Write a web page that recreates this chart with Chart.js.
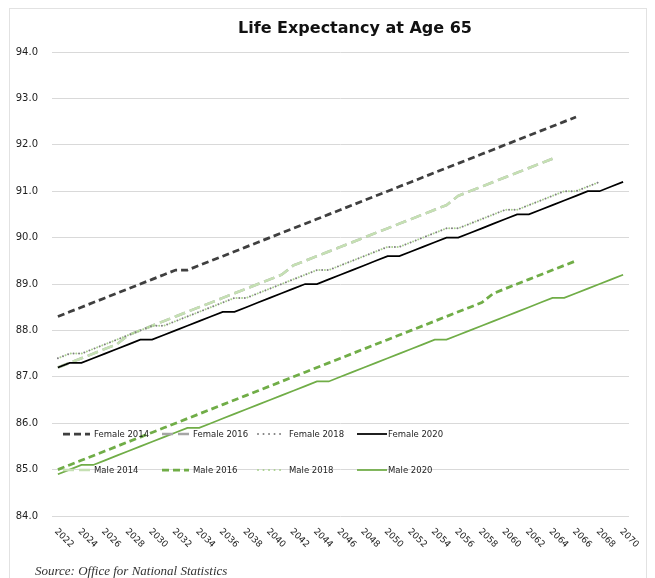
<!DOCTYPE html>
<html>
<head>
<meta charset="utf-8">
<script src="https://cdn.jsdelivr.net/npm/chart.js@4/dist/chart.umd.min.js"></script>
<style>
  html, body { margin: 0; padding: 0; background: #fff; overflow: hidden; }
  #wrap { position: relative; width: 655px; height: 578px; }
  #frame { position: absolute; left: 9px; top: 8px; width: 638px; height: 600px; border: 1px solid #e2e2e2; box-sizing: border-box; }
  #chart { position: absolute; left: 0; top: 0; }
  #title { position: absolute; left: 0; top: 18px; width: 710px; text-align: center; font: bold 16px "DejaVu Sans", sans-serif; color: #111; line-height: 20px; }
  #source { position: absolute; left: 35px; top: 563px; font: italic 13px "Liberation Serif", serif; color: #333; line-height: 16px; }
</style>
</head>
<body>
<div id="wrap">
  <div id="frame"></div>
  <canvas id="chart" width="655" height="578"></canvas>
  <div id="title">Life Expectancy at Age 65</div>
  <div id="source">Source: Office for National Statistics</div>
</div>
<script>
const years = ['2022','2023','2024','2025','2026','2027','2028','2029','2030','2031',
  '2032','2033','2034','2035','2036','2037','2038','2039','2040','2041',
  '2042','2043','2044','2045','2046','2047','2048','2049','2050','2051',
  '2052','2053','2054','2055','2056','2057','2058','2059','2060','2061',
  '2062','2063','2064','2065','2066','2067','2068','2069','2070'];

const yTicks = [84, 85, 86, 87, 88, 89, 90, 91, 92, 93, 94];

// 2022 - 2066
const female2014 = [88.3, 88.4, 88.5, 88.6, 88.7, 88.8, 88.9, 89.0, 89.1, 89.2,
  89.3, 89.3, 89.4, 89.5, 89.6, 89.7, 89.8, 89.9, 90.0, 90.1,
  90.2, 90.3, 90.4, 90.5, 90.6, 90.7, 90.8, 90.9, 91.0, 91.1,
  91.2, 91.3, 91.4, 91.5, 91.6, 91.7, 91.8, 91.9, 92.0, 92.1,
  92.2, 92.3, 92.4, 92.5, 92.6];

// 2022 - 2064 (Female 2016 sits right under this line in the source chart)
const male2014 = [87.2, 87.3, 87.4, 87.5, 87.6, 87.7, 87.9, 88.0, 88.1, 88.2,
  88.3, 88.4, 88.5, 88.6, 88.7, 88.8, 88.9, 89.0, 89.1, 89.2,
  89.4, 89.5, 89.6, 89.7, 89.8, 89.9, 90.0, 90.1, 90.2, 90.3,
  90.4, 90.5, 90.6, 90.7, 90.9, 91.0, 91.1, 91.2, 91.3, 91.4,
  91.5, 91.6, 91.7];
const female2016 = [87.2, 87.3, 87.4, 87.5, 87.6, 87.7, 87.9, 88.0, 88.1, 88.2,
  88.3, 88.4, 88.5, 88.6, 88.7, 88.8, 88.9, 89.0, 89.1, 89.2,
  89.4, 89.5, 89.6, 89.7, 89.8, 89.9, 90.0, 90.1, 90.2, 90.3,
  90.4, 90.5, 90.6, 90.7, 90.9, 91.0, 91.1, 91.2, 91.3, 91.4,
  91.5, 91.6, 91.7];

// 2022 - 2068 (both 2018 series share the dotted line)
const female2018 = [87.4, 87.5, 87.5, 87.6, 87.7, 87.8, 87.9, 88.0, 88.1, 88.1,
  88.2, 88.3, 88.4, 88.5, 88.6, 88.7, 88.7, 88.8, 88.9, 89.0,
  89.1, 89.2, 89.3, 89.3, 89.4, 89.5, 89.6, 89.7, 89.8, 89.8,
  89.9, 90.0, 90.1, 90.2, 90.2, 90.3, 90.4, 90.5, 90.6, 90.6,
  90.7, 90.8, 90.9, 91.0, 91.0, 91.1, 91.2];
const male2018 = [87.4, 87.5, 87.5, 87.6, 87.7, 87.8, 87.9, 88.0, 88.1, 88.1,
  88.2, 88.3, 88.4, 88.5, 88.6, 88.7, 88.7, 88.8, 88.9, 89.0,
  89.1, 89.2, 89.3, 89.3, 89.4, 89.5, 89.6, 89.7, 89.8, 89.8,
  89.9, 90.0, 90.1, 90.2, 90.2, 90.3, 90.4, 90.5, 90.6, 90.6,
  90.7, 90.8, 90.9, 91.0, 91.0, 91.1, 91.2];

// 2022 - 2070
const female2020 = [87.2, 87.3, 87.3, 87.4, 87.5, 87.6, 87.7, 87.8, 87.8, 87.9,
  88.0, 88.1, 88.2, 88.3, 88.4, 88.4, 88.5, 88.6, 88.7, 88.8,
  88.9, 89.0, 89.0, 89.1, 89.2, 89.3, 89.4, 89.5, 89.6, 89.6,
  89.7, 89.8, 89.9, 90.0, 90.0, 90.1, 90.2, 90.3, 90.4, 90.5,
  90.5, 90.6, 90.7, 90.8, 90.9, 91.0, 91.0, 91.1, 91.2];

// 2022 - 2066
const male2016 = [85.0, 85.1, 85.2, 85.3, 85.4, 85.5, 85.6, 85.7, 85.8, 85.9,
  86.0, 86.1, 86.2, 86.3, 86.4, 86.5, 86.6, 86.7, 86.8, 86.9,
  87.0, 87.1, 87.2, 87.3, 87.4, 87.5, 87.6, 87.7, 87.8, 87.9,
  88.0, 88.1, 88.2, 88.3, 88.4, 88.5, 88.6, 88.8, 88.9, 89.0,
  89.1, 89.2, 89.3, 89.4, 89.5];

// 2022 - 2070
const male2020 = [84.9, 85.0, 85.1, 85.1, 85.2, 85.3, 85.4, 85.5, 85.6, 85.7,
  85.8, 85.9, 85.9, 86.0, 86.1, 86.2, 86.3, 86.4, 86.5, 86.6,
  86.7, 86.8, 86.9, 86.9, 87.0, 87.1, 87.2, 87.3, 87.4, 87.5,
  87.6, 87.7, 87.8, 87.8, 87.9, 88.0, 88.1, 88.2, 88.3, 88.4,
  88.5, 88.6, 88.7, 88.7, 88.8, 88.9, 89.0, 89.1, 89.2];

const FONT = '"DejaVu Sans", sans-serif';
const TEXT = '#1e1e1e';

function series(label, data, color, width, dash, extra) {
  return Object.assign({
    label: label,
    data: data,
    borderColor: color,
    backgroundColor: color,
    borderWidth: width,
    borderDash: dash,
    pointRadius: 0,
    pointHoverRadius: 0,
    tension: 0,
    fill: false
  }, extra || {});
}

// legend order (rows of four), drawn inside the plot like the original
const legendRows = [
  ['Female 2014', 'Female 2016', 'Female 2018', 'Female 2020'],
  ['Male 2014', 'Male 2016', 'Male 2018', 'Male 2020']
];

const datasets = [
  series('Female 2014', female2014, '#3f3f3f', 2.75, [7, 4], { order: 1 }),
  series('Female 2016', female2016, '#a6a6a6', 2.5, [11, 5], { order: 8 }),
  series('Female 2018', female2018, '#7f7f7f', 2, [0.01, 5.5], { order: 3, borderCapStyle: 'round' }),
  series('Female 2020', female2020, '#000000', 1.75, [], { order: 2 }),
  series('Male 2014', male2014, '#c5e0b3', 2.5, [11, 5], { order: 7 }),
  series('Male 2016', male2016, '#70ad47', 2.75, [7, 4], { order: 5 }),
  series('Male 2018', male2018, '#a9d18e', 2, [0.01, 5.5], { order: 4, borderCapStyle: 'round', borderDashOffset: 2.75 }),
  series('Male 2020', male2020, '#70ad47', 1.75, [], { order: 6 })
];

// --- legend drawn over the plot ---
const insideLegend = {
  id: 'insideLegend',
  afterDatasetsDraw(chart) {
    const ctx = chart.ctx;
    const rowY = [434, 470];
    const colX = [63, 162, 258, 357];
    const sample = 27;
    ctx.save();
    ctx.font = '8.5px ' + FONT;
    ctx.fillStyle = TEXT;
    ctx.textBaseline = 'middle';
    ctx.textAlign = 'left';
    legendRows.forEach((row, r) => {
      row.forEach((name, c) => {
        const ds = chart.data.datasets.find(d => d.label === name);
        const x = colX[c], y = rowY[r];
        ctx.save();
        ctx.strokeStyle = ds.borderColor;
        ctx.lineWidth = ds.borderWidth;
        ctx.lineCap = ds.borderCapStyle || 'butt';
        ctx.setLineDash(ds.borderDash);
        ctx.lineDashOffset = 0;
        ctx.beginPath();
        ctx.moveTo(x, y);
        ctx.lineTo(x + sample + (ds.borderDash.length ? 0 : 3), y);
        ctx.stroke();
        ctx.restore();
        ctx.fillText(name, x + sample + 4, y + 0.5);
      });
    });
    ctx.restore();
  }
};

// --- x labels rotated clockwise, every second year ---
const slantLabels = {
  id: 'slantLabels',
  afterDraw(chart) {
    const ctx = chart.ctx;
    const xs = chart.scales.x;
    const base = chart.chartArea.bottom;
    ctx.save();
    ctx.font = '9px ' + FONT;
    ctx.fillStyle = TEXT;
    ctx.textAlign = 'left';
    ctx.textBaseline = 'middle';
    years.forEach((yr, i) => {
      if (i % 2) return;
      const px = xs.getPixelForValue(i);
      ctx.save();
      ctx.translate(px - 2, base + 14);
      ctx.rotate(Math.PI / 4);
      ctx.fillText(yr, 0, 0);
      ctx.restore();
    });
    ctx.restore();
  }
};

document.addEventListener('DOMContentLoaded', () => {
  new Chart(document.getElementById('chart'), {
    type: 'line',
    data: { labels: years, datasets: datasets },
    options: {
      responsive: false,
      animation: false,
      events: [],
      layout: { padding: { left: 12, right: 26, top: 52, bottom: 54 } },
      plugins: {
        legend: { display: false },
        title: { display: false },
        tooltip: { enabled: false }
      },
      scales: {
        x: {
          type: 'category',
          offset: true,
          grid: { display: false },
          border: { display: false },
          ticks: { display: false }
        },
        y: {
          min: yTicks[0],
          max: yTicks[yTicks.length - 1],
          afterBuildTicks: (scale) => { scale.ticks = yTicks.map(v => ({ value: v })); },
          afterFit: (scale) => { scale.width = 40; },
          grid: { color: '#d9d9d9', lineWidth: 1, drawTicks: false },
          border: { display: false },
          ticks: {
            padding: 14,
            color: TEXT,
            font: { family: FONT, size: 10 },
            callback: (v) => Number(v).toFixed(1)
          }
        }
      }
    },
    plugins: [insideLegend, slantLabels]
  });
});
</script>
</body>
</html>
